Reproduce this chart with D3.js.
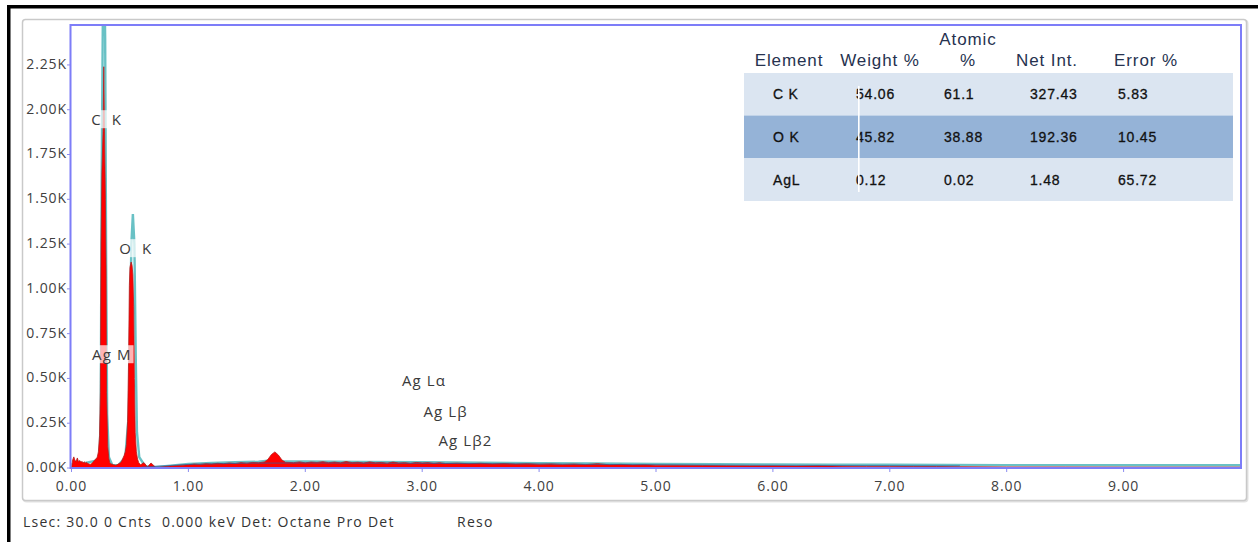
<!DOCTYPE html>
<html>
<head>
<meta charset="utf-8">
<script src="https://cdn.jsdelivr.net/npm/d3@7"></script>
<style>
  html, body { margin: 0; padding: 0; background: #fff; }
  svg { display: block; }
</style>
</head>
<body>
<svg id="chart" width="1258" height="542"></svg>
<script>
// ---------- data ----------
// measured spectrum (red filled area): energy keV / counts
const spectrumEnergy = [0, 0.01, 0.02, 0.03, 0.04, 0.05, 0.06, 0.07, 0.08, 0.09, 0.10, 0.11, 0.12, 0.13, 0.14, 0.15, 0.16, 0.17, 0.18, 0.19,
  0.20, 0.21, 0.22, 0.23, 0.24, 0.247, 0.253, 0.26, 0.27, 0.276, 0.282, 0.29, 0.296, 0.30, 0.31, 0.32, 0.33, 0.36, 0.38, 0.40, 0.42,
  0.43, 0.44, 0.45, 0.46, 0.47, 0.48, 0.488, 0.495, 0.50, 0.51, 0.518, 0.525, 0.532, 0.538, 0.545, 0.555, 0.565, 0.575, 0.59, 0.62, 0.65,
  0.68, 0.72, 0.75, 0.80, 0.85, 0.90, 0.95, 1.00, 1.05, 1.10, 1.15, 1.20, 1.25, 1.30, 1.35, 1.40, 1.45, 1.50, 1.55, 1.60,
  1.65, 1.68, 1.71, 1.74, 1.77, 1.80, 1.83, 1.90, 1.95, 2.00, 2.05, 2.10, 2.15, 2.20, 2.25, 2.30, 2.35, 2.40, 2.45, 2.50,
  2.55, 2.60, 2.65, 2.70, 2.75, 2.80, 2.85, 2.90, 2.95, 3.00, 3.05, 3.10, 3.15, 3.20, 3.30, 3.40, 3.50, 3.60, 3.70, 3.80,
  3.90, 4.00, 4.10, 4.20, 4.30, 4.40, 4.50, 4.60, 4.70, 4.80, 4.90, 5.00, 5.20, 5.40, 5.60, 5.80, 6.00, 6.20, 6.40, 6.60,
  6.80, 7.00, 7.20, 7.40, 7.60, 8.00, 8.50, 9.00, 9.50, 10.00];
const spectrumCounts = [0, 45, 62, 40, 38, 56, 35, 42, 33, 36, 30, 34, 28, 31, 25, 22, 20, 24, 30, 38,
  45, 52, 60, 90, 180, 420, 1250, 1650, 1880, 2240, 1900, 1500, 1100, 420, 120, 50, 25, 18, 15, 22,
  30, 40, 55, 70, 90, 130, 260, 600, 1020, 1120, 1150, 1130, 1080, 900, 500, 200, 90, 50, 30, 18, 30, 6,
  28, 4, 5, 8, 11, 14, 16, 18, 22, 20, 24, 22, 26, 24, 28, 25, 30, 27, 31, 29,
  34, 48, 75, 90, 72, 45, 32, 30, 34, 29, 33, 31, 35, 30, 33, 29, 36, 30, 32, 28,
  34, 29, 31, 27, 33, 28, 30, 26, 31, 28, 30, 26, 29, 25, 27, 24, 26, 23, 25, 22,
  24, 21, 23, 20, 22, 19, 24, 18, 20, 17, 18, 16, 15, 14, 13, 12, 12, 11, 12, 10,
  9, 9, 8, 8, 7, 6, 6, 5, 5, 5];

// overlay spectrum (teal line)
const overlayEnergy = [0, 0.10, 0.20, 0.24, 0.25, 0.258, 0.268, 0.278, 0.288, 0.296, 0.305, 0.32, 0.35, 0.40, 0.46, 0.49, 0.50,
  0.512, 0.525, 0.538, 0.55, 0.56, 0.58, 0.63, 0.70, 0.80, 1.00, 1.20, 1.40, 1.60, 1.74, 1.80, 2.00, 2.50, 3.00, 3.50, 4.00, 4.50, 5.00,
  5.50, 6.00, 6.50, 7.00, 7.50, 8.00, 8.50, 9.00, 9.50, 10.00];
const overlayCounts = [20, 25, 40, 60, 300, 1600, 2500, 2900, 2400, 1200, 300, 60, 15, 15, 60, 300, 700,
  1250, 1418, 1250, 600, 200, 60, 10, 5, 10, 22, 28, 32, 35, 45, 36, 36, 34, 32, 29, 27, 25, 23,
  21, 20, 19, 18, 17, 16, 16, 15, 15, 15];

// background fit (dark blue thin line)
const fitEnergy = [0.60, 0.80, 1.00, 1.50, 2.00, 3.00, 4.00, 5.00, 6.00, 7.00, 7.60];
const fitCounts = [5, 12, 20, 27, 28, 26, 22, 18, 15, 13, 12];

// peak labels
const peakNames = ["C K", "O K", "Ag M", "Ag L\u03B1", "Ag L\u03B2", "Ag L\u03B22"];
const peakLabelEnergy = [0.30, 0.55, 0.345, 3.015, 3.20, 3.37];
const peakLabelCounts = [1943, 1223, 631, 486, 313, 151];

// axes
const xTicks = [0, 1, 2, 3, 4, 5, 6, 7, 8, 9];
const yTicks = [0, 250, 500, 750, 1000, 1250, 1500, 1750, 2000, 2250];

// quantification table
const tableHeaders = ["Element", "Weight %", "Atomic\n%", "Net Int.", "Error %"];
const tableElements = ["C K", "O K", "AgL"];
const tableWeight = ["54.06", "45.82", "0.12"];
const tableAtomic = ["61.1", "38.88", "0.02"];
const tableNetInt = ["327.43", "192.36", "1.48"];
const tableError = ["5.83", "10.45", "65.72"];

const footerText = "Lsec: 30.0 0 Cnts  0.000 keV Det: Octane Pro Det";
const footerExtra = "Reso";

// ---------- drawing ----------
const svg = d3.select("#chart");
const W = 1258, H = 542;
svg.append("rect").attr("width", W).attr("height", H).attr("fill", "#fff");

// outer black frame (top and left)
svg.append("rect").attr("x", 7).attr("y", 5).attr("width", W - 7).attr("height", 3.5).attr("fill", "#000");
svg.append("rect").attr("x", 7).attr("y", 5).attr("width", 3.5).attr("height", H - 5).attr("fill", "#000");

// grey panel
svg.append("rect").attr("x", 23.5).attr("y", 20.5).attr("width", 1224).attr("height", 481)
  .attr("rx", 3).attr("fill", "none").attr("stroke", "#e2e2e2").attr("stroke-width", 2);
svg.append("rect").attr("x", 22.5).attr("y", 19.5).attr("width", 1224).attr("height", 481)
  .attr("rx", 3).attr("fill", "#fff").attr("stroke", "#c9c9c9").attr("stroke-width", 1.5);

const pLeft = 71.5, pRight = 1240.5, pTop = 25, pBottom = 468;
const x = d3.scaleLinear().domain([0, 10]).range([pLeft, pRight]);
const y = d3.scaleLinear().domain([0, 2473]).range([pBottom, pTop]);

const defs = svg.append("defs");
defs.append("clipPath").attr("id", "plotclip").append("rect")
  .attr("x", 70.5).attr("y", pTop).attr("width", 1241 - 70.5).attr("height", pBottom - pTop);

const plot = svg.append("g").attr("clip-path", "url(#plotclip)");

const spec = spectrumEnergy.map((e, i) => ({ e, c: spectrumCounts[i] }));
const over = overlayEnergy.map((e, i) => ({ e, c: overlayCounts[i] }));
const fit = fitEnergy.map((e, i) => ({ e, c: fitCounts[i] }));

plot.append("path")
  .datum(over)
  .attr("fill", "none")
  .attr("stroke", "#4fb6bb")
  .attr("stroke-opacity", 0.85)
  .attr("stroke-width", 2.4)
  .attr("d", d3.line().x(d => x(d.e)).y(d => y(d.c)));

plot.append("path")
  .datum(spec)
  .attr("fill", "#ff0000")
  .attr("stroke", "#b81c1c")
  .attr("stroke-width", 0.8)
  .attr("d", d3.area().x(d => x(d.e)).y0(y(0)).y1(d => y(d.c)));

plot.append("path")
  .datum(fit)
  .attr("fill", "none")
  .attr("stroke", "#2f5e9e")
  .attr("stroke-opacity", 0.7)
  .attr("stroke-width", 1)
  .attr("d", d3.line().x(d => x(d.e)).y(d => y(d.c)));

// peak labels with translucent white boxes
const lab = svg.append("g");
peakNames.forEach((name, i) => {
  const g = lab.append("g");
  const t = g.append("text")
    .attr("x", x(peakLabelEnergy[i]))
    .attr("y", y(peakLabelCounts[i]))
    .attr("dy", "0.35em")
    .attr("text-anchor", "middle")
    .attr("font-family", "'Open Sans', sans-serif")
    .attr("font-size", 15)
    .attr("letter-spacing", "1.1px")
    .attr("word-spacing", (name === "C K" || name === "O K") ? "5px" : "0px")
    .attr("fill", "#3a3a3a")
    .text(name);
  const bb = t.node().getBBox();
  g.insert("rect", "text")
    .attr("x", bb.x - 2).attr("y", bb.y + 1)
    .attr("width", bb.width + 4).attr("height", bb.height - 2)
    .attr("fill", "#fff").attr("fill-opacity", 0.7);
});

// plot frame
svg.append("rect").attr("x", 70.5).attr("y", pTop).attr("width", 1241 - 70.5).attr("height", pBottom - pTop)
  .attr("fill", "none").attr("stroke", "#7d7df8").attr("stroke-width", 2);

// y axis
const yAxis = svg.append("g");
yTicks.forEach(v => {
  yAxis.append("line").attr("x1", 67).attr("x2", 70).attr("y1", y(v)).attr("y2", y(v))
    .attr("stroke", "#8c8cf0").attr("stroke-width", 1);
  yAxis.append("text")
    .attr("x", 67).attr("y", y(v) - 1).attr("dy", "0.35em")
    .attr("text-anchor", "end")
    .attr("font-family", "'Open Sans', sans-serif").attr("font-size", 14)
    .attr("letter-spacing", "0.9px")
    .attr("fill", "#404040")
    .text(d3.format(".2f")(v / 1000) + "K");
});

// x axis
const xAxis = svg.append("g");
xTicks.forEach(v => {
  xAxis.append("line").attr("x1", x(v)).attr("x2", x(v)).attr("y1", pBottom + 1).attr("y2", pBottom + 4)
    .attr("stroke", "#8c8cf0").attr("stroke-width", 1);
  xAxis.append("text")
    .attr("x", x(v)).attr("y", 486).attr("dy", "0.35em")
    .attr("text-anchor", "middle")
    .attr("font-family", "'Open Sans', sans-serif").attr("font-size", 14)
    .attr("letter-spacing", "0.9px")
    .attr("fill", "#404040")
    .text(d3.format(".2f")(v));
});

// quantification table
const tbl = svg.append("g");
const rowTop = [73, 115.5, 158];
const rowH = [42.5, 42.5, 43];
const rowFill = ["#dbe5f1", "#95b3d7", "#dbe5f1"];
rowTop.forEach((ty, i) => {
  tbl.append("rect").attr("x", 744).attr("y", ty).attr("width", 489).attr("height", rowH[i]).attr("fill", rowFill[i]);
});
const headX = [789, 880, 968, 1047, 1146];
tableHeaders.forEach((h, i) => {
  const parts = h.split("\n");
  parts.forEach((p, j) => {
    tbl.append("text")
      .attr("x", headX[i]).attr("y", 66 - (parts.length - 1 - j) * 21)
      .attr("text-anchor", "middle")
      .attr("font-family", "'Liberation Sans', Arial, sans-serif")
      .attr("font-size", 17)
      .attr("letter-spacing", "0.9px")
      .attr("fill", "#26324f")
      .text(p);
  });
});
const colX = [773, 856, 944, 1030, 1118];
const cols = [tableElements, tableWeight, tableAtomic, tableNetInt, tableError];
const rowBase = [99, 142, 185];
cols.forEach((col, c) => {
  col.forEach((val, r) => {
    tbl.append("text")
      .attr("x", colX[c]).attr("y", rowBase[r])
      .attr("font-family", "'Liberation Sans', Arial, sans-serif")
      .attr("font-size", 14)
      .attr("letter-spacing", "0.8px")
      .attr("fill", "#111")
      .attr("stroke", "#111").attr("stroke-width", 0.3)
      .text(val);
  });
});
// white caret bar across the weight column
tbl.append("rect").attr("x", 858).attr("y", 86).attr("width", 1.6).attr("height", 106).attr("fill", "#fff");

// footer
svg.append("text").attr("x", 23).attr("y", 527)
  .attr("font-family", "'Open Sans', sans-serif").attr("font-size", 14)
  .attr("letter-spacing", "1.25px")
  .attr("fill", "#333").attr("xml:space", "preserve").style("white-space", "pre")
  .text(footerText);
svg.append("text").attr("x", 457).attr("y", 527)
  .attr("font-family", "'Open Sans', sans-serif").attr("font-size", 14)
  .attr("letter-spacing", "1.25px")
  .attr("fill", "#333")
  .text(footerExtra);
</script>
</body>
</html>
